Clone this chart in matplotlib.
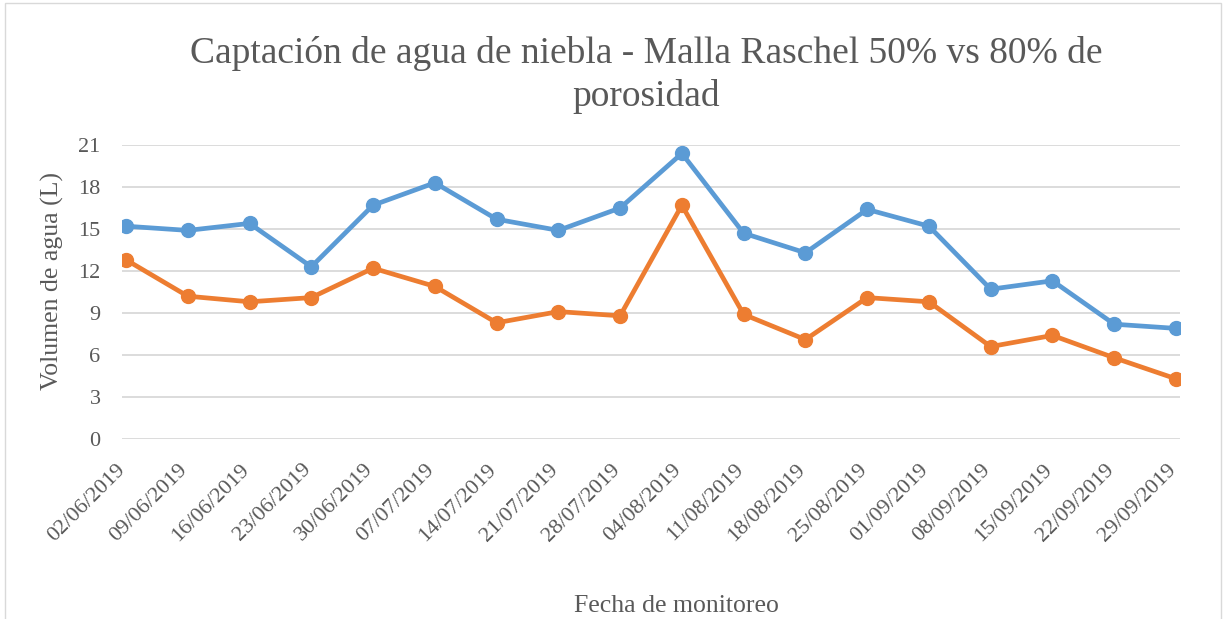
import matplotlib
matplotlib.use("Agg")
import matplotlib.pyplot as plt
from matplotlib.patches import Rectangle
from matplotlib.transforms import ScaledTranslation

fechas = ["02/06/2019", "09/06/2019", "16/06/2019", "23/06/2019", "30/06/2019",
          "07/07/2019", "14/07/2019", "21/07/2019", "28/07/2019", "04/08/2019",
          "11/08/2019", "18/08/2019", "25/08/2019", "01/09/2019", "08/09/2019",
          "15/09/2019", "22/09/2019", "29/09/2019"]
malla_50 = [15.2, 14.9, 15.4, 12.3, 16.7, 18.3, 15.7, 14.9, 16.5, 20.4,
            14.7, 13.3, 16.4, 15.2, 10.7, 11.3, 8.2, 7.9]
malla_80 = [12.8, 10.2, 9.8, 10.1, 12.2, 10.9, 8.3, 9.1, 8.8, 16.7,
            8.9, 7.1, 10.1, 9.8, 6.6, 7.4, 5.8, 4.3]
y_ticks = [0, 3, 6, 9, 12, 15, 18, 21]

TXT = "#595959"
plt.rcParams['font.family'] = ['Liberation Serif', 'DejaVu Serif']

W, H = 1225, 619
fig = plt.figure(figsize=(W / 100, H / 100), dpi=100)
fig.patches.append(Rectangle((5 / W, -0.1), (1221 - 5) / W, 1.1 - 3 / H,
                             transform=fig.transFigure, fill=False,
                             edgecolor="#D9D9D9", linewidth=1.0))

ax = fig.add_axes([122 / W, 1 - 439 / H, (1180 - 122) / W, (439 - 145) / H])
x = list(range(len(fechas)))
ax.plot(x, malla_50, color="#5B9BD5", linewidth=3.4, marker="o", markersize=10,
        solid_capstyle="round", zorder=3)
ax.plot(x, malla_80, color="#ED7D31", linewidth=3.4, marker="o", markersize=10,
        solid_capstyle="round", zorder=3)

ax.set_xlim(-0.065, len(fechas) - 1 + 0.065)
ax.set_ylim(0, 21)
ax.set_yticks(y_ticks)
ax.set_yticklabels([str(v) for v in y_ticks], fontsize=16, color=TXT)
ax.set_xticks(x)
ax.set_xticklabels(fechas, fontsize=16, color=TXT, rotation=45, ha="right",
                   va="center", rotation_mode="anchor")
ax.tick_params(axis="both", length=0)
ax.tick_params(axis="y", pad=15.5)
ax.tick_params(axis="x", pad=20)
shift = ScaledTranslation(-3 / 100, 0, fig.dpi_scale_trans)
for lab in ax.get_xticklabels():
    lab.set_transform(lab.get_transform() + shift)
ax.grid(axis="y", color="#D9D9D9", linewidth=1.3)
ax.set_axisbelow(True)
for s in ax.spines.values():
    s.set_visible(False)

fig.text(646 / W, 1 - 63 / H,
         "Captación de agua de niebla - Malla Raschel 50% vs 80% de",
         ha="center", va="baseline", fontsize=27, color=TXT)
fig.text(646 / W, 1 - 106 / H, "porosidad",
         ha="center", va="baseline", fontsize=27, color=TXT)
fig.text(676 / W, 1 - 612 / H, "Fecha de monitoreo", ha="center", va="baseline",
         fontsize=18.5, color=TXT)
fig.text(52 / W, 1 - 281 / H, "Volumen de agua (L)", ha="center", va="center",
         rotation=90, fontsize=18.5, color=TXT)

fig.savefig("out.png", dpi=100)
